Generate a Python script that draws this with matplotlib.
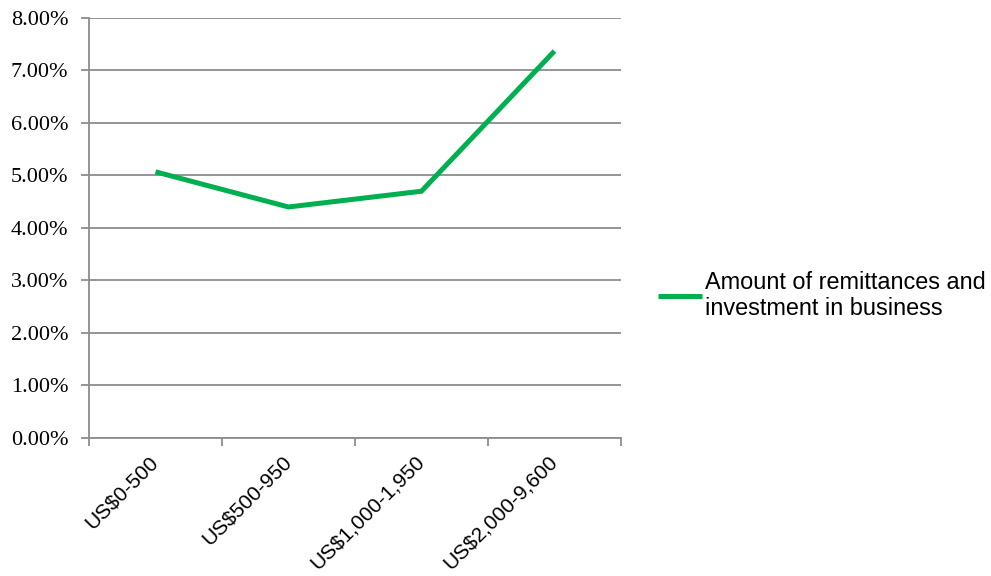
import matplotlib
matplotlib.use("Agg")
import matplotlib.pyplot as plt
from matplotlib.ticker import PercentFormatter, FixedLocator

categories = ["US$0-500", "US$500-950", "US$1,000-1,950", "US$2,000-9,600"]
values = [5.07, 4.40, 4.70, 7.37]  # percent
series_name = "Amount of remittances and\ninvestment in business"

green = "#00B050"
grid_gray = "#8c8c8c"

fig = plt.figure(figsize=(9.91, 5.76), dpi=100)
ax = fig.add_axes([0.0898, 0.2396, 0.5368, 0.7292])

x = list(range(len(categories)))
line, = ax.plot(x, values, color=green, lw=3.6, solid_capstyle="butt",
                solid_joinstyle="miter", label=series_name, zorder=3)

ax.set_xlim(-0.5, len(categories) - 0.5)
ax.set_ylim(0, 8)
ax.set_yticks(range(0, 9))
ax.yaxis.set_major_formatter(PercentFormatter(decimals=2))
ax.grid(axis="y", color=grid_gray, lw=1.3)
ax.set_axisbelow(True)

for s in ["top", "right"]:
    ax.spines[s].set_visible(False)
for s in ["left", "bottom"]:
    ax.spines[s].set_color(grid_gray)
    ax.spines[s].set_linewidth(1.3)

# category labels at centres, tick marks at category boundaries
ax.set_xticks(x)
ax.set_xticklabels(categories, rotation=45, ha="right", va="center",
                   rotation_mode="anchor", fontfamily="Liberation Sans",
                   fontsize=15)
ax.tick_params(axis="x", which="major", length=0, pad=15)
ax.xaxis.set_minor_locator(FixedLocator([i - 0.5 for i in range(len(categories) + 1)]))
ax.tick_params(axis="x", which="minor", length=6, width=1.3, color=grid_gray)
ax.tick_params(axis="y", length=6, width=1.3, color=grid_gray, pad=9)
for lab in ax.get_yticklabels():
    lab.set_fontfamily("Liberation Serif")
    lab.set_fontsize(16)

fig.legend(handles=[line], loc="center left", bbox_to_anchor=(0.643, 0.487),
           frameon=False, prop={"family": "Liberation Sans", "size": 16.9},
           handlelength=1.85, handletextpad=0.15, labelspacing=0.2)

fig.savefig("out.png", dpi=100)
